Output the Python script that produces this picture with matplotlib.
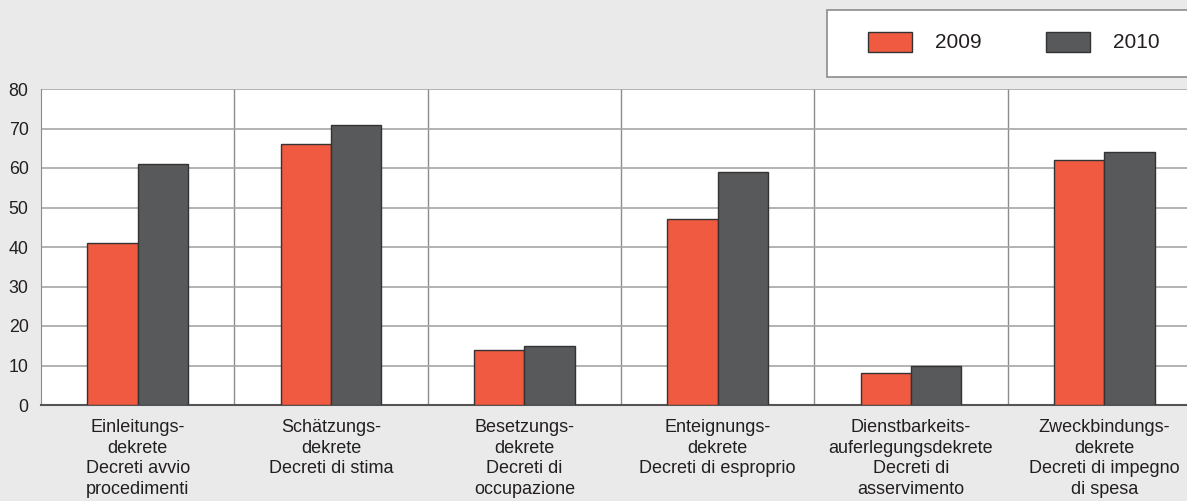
import matplotlib.pyplot as plt
from matplotlib.patches import Rectangle
import numpy as np

plt.rcParams['font.family'] = ['Liberation Sans', 'DejaVu Sans']

categories = [
    "Einleitungs-\ndekrete\nDecreti avvio\nprocedimenti",
    "Schätzungs-\ndekrete\nDecreti di stima",
    "Besetzungs-\ndekrete\nDecreti di\noccupazione",
    "Enteignungs-\ndekrete\nDecreti di esproprio",
    "Dienstbarkeits-\nauferlegungsdekrete\nDecreti di\nasservimento",
    "Zweckbindungs-\ndekrete\nDecreti di impegno\ndi spesa",
]
vals_2009 = [41, 66, 14, 47, 8, 62]
vals_2010 = [61, 71, 15, 59, 10, 64]
years = ["2009", "2010"]

red = "#f05a40"
dark = "#58595b"
bg = "#e9eae9"
txt = "#231f20"

W, H = 1187, 501
fig = plt.figure(figsize=(W / 100, H / 100), dpi=100, facecolor=bg)
# axes run slightly past the right edge, as in the original
ax = fig.add_axes([41 / W, 1 - 405 / H, (1201 - 41) / W, (405 - 89) / H])
ax.set_facecolor("white")

x = np.arange(len(categories))
bw = 0.26
ax.bar(x - bw / 2, vals_2009, bw, color=red, edgecolor="#333333", linewidth=1, zorder=3)
ax.bar(x + bw / 2, vals_2010, bw, color=dark, edgecolor="#333333", linewidth=1, zorder=3)

ax.set_xlim(-0.5, len(categories) - 0.5)
ax.set_ylim(0, 80)
ax.set_yticks(range(0, 81, 10))
ax.yaxis.grid(True, color="#a6a6a6", linewidth=1.2, zorder=0)
for b in x[:-1] + 0.5:
    ax.axvline(b, color="#8c8c8c", linewidth=1, zorder=1)

ax.set_xticks(x)
ax.set_xticklabels(categories, linespacing=1.28, fontsize=13)
ax.tick_params(axis="both", length=0, colors=txt)
ax.tick_params(axis="x", pad=10)
ax.tick_params(axis="y", pad=9, labelsize=12.8)

for s in ["top", "right"]:
    ax.spines[s].set_visible(False)
ax.spines["left"].set_color("#8c8c8c")
ax.spines["bottom"].set_color("#555555")
ax.spines["bottom"].set_linewidth(1.5)

# legend box, drawn by hand so it can run off the right edge
box = Rectangle((827 / W, 1 - 77 / H), 400 / W, 67 / H, transform=fig.transFigure,
                facecolor="white", edgecolor="#8c8c8c", linewidth=1.2)
fig.patches.append(box)
for px, tx, col, lab in [(868, 935, red, years[0]), (1046, 1113, dark, years[1])]:
    fig.patches.append(Rectangle((px / W, 1 - 52 / H), 44 / W, 20 / H, transform=fig.transFigure,
                                 facecolor=col, edgecolor="#333333", linewidth=1))
    fig.text(tx / W, 1 - 42 / H, lab, fontsize=15, color=txt, va="center", ha="left")

fig.savefig("out.png", dpi=100, facecolor=bg)
